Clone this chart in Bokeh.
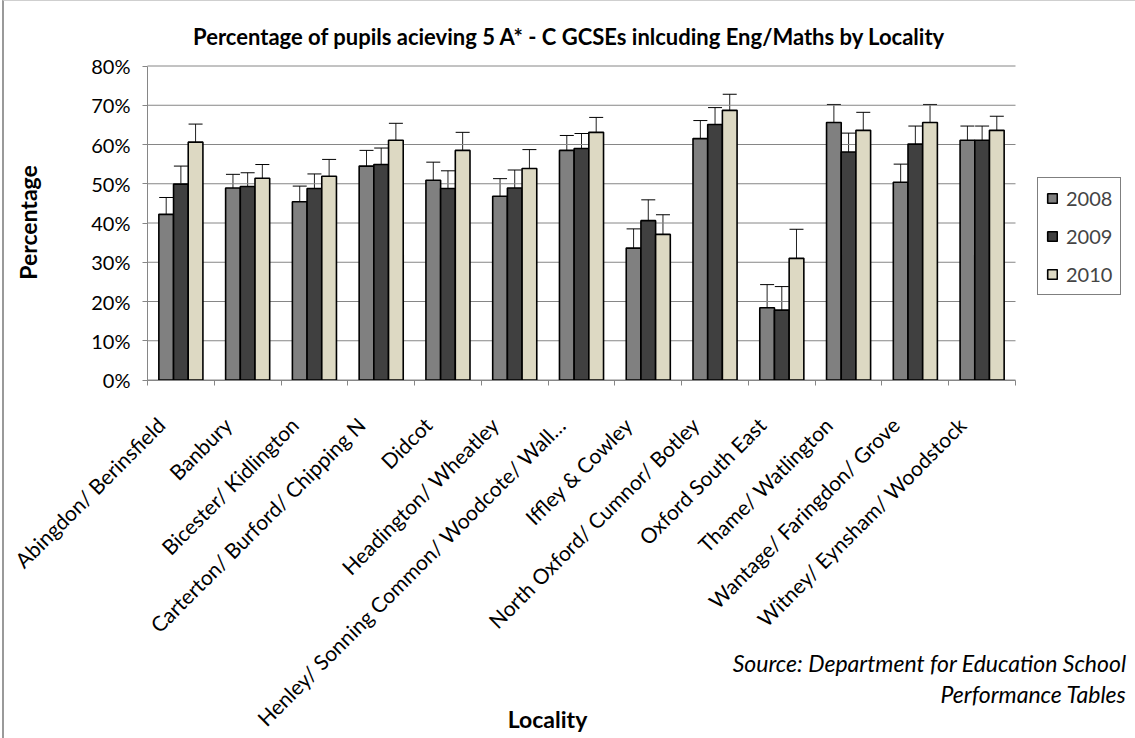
from math import pi
from bokeh.plotting import figure
from bokeh.models import (Range1d, FixedTicker, PrintfTickFormatter, Whisker, TeeHead,
                          ColumnDataSource, Label, Legend, LegendItem)
from bokeh.embed import file_html
from bokeh.resources import INLINE

localities = ["Abingdon/ Berinsfield", "Banbury", "Bicester/ Kidlington",
              "Carterton/ Burford/ Chipping N", "Didcot", "Headington/ Wheatley",
              "Henley/ Sonning Common/ Woodcote/ Wall\u2026", "Iffley & Cowley",
              "North Oxford/ Cumnor/ Botley", "Oxford South East", "Thame/ Watlington",
              "Wantage/ Faringdon/ Grove", "Witney/ Eynsham/ Woodstock"]
years = ["2008", "2009", "2010"]
v2008 = [42.2, 48.9, 45.4, 54.5, 50.9, 46.8, 58.5, 33.6, 61.5, 18.4, 65.6, 50.4, 61.1]
v2009 = [49.9, 49.3, 48.8, 54.9, 48.8, 48.9, 59.0, 40.6, 65.1, 17.8, 58.1, 60.1, 61.1]
v2010 = [60.6, 51.4, 51.9, 61.1, 58.5, 53.9, 63.1, 37.1, 68.7, 31.0, 63.6, 65.6, 63.6]
e2008 = [4.3, 3.5, 4.0, 4.0, 4.6, 4.5, 3.8, 4.9, 4.6, 5.9, 4.6, 4.6, 3.6]
e2009 = [4.6, 3.5, 3.7, 4.2, 4.5, 4.6, 3.8, 5.3, 4.3, 6.0, 4.8, 4.6, 3.6]
e2010 = [4.6, 3.5, 4.3, 4.3, 4.6, 4.8, 3.8, 5.0, 4.1, 7.4, 4.6, 4.6, 3.6]
y_ticks = [0, 10, 20, 30, 40, 50, 60, 70, 80]

colors = ["#808080", "#404040", "#DDD9C3"]
FONT = "Lato"
N = len(localities)

# canvas geometry (page pixels): canvas starts at page (4, 1), size 1131 x 737
CW, CH = 1131, 737
OX, OY = 4, 1
PX0, PX1 = 147.0, 1015.0      # page x of category axis start / end
PY0, PY80 = 379.5, 65.5       # page y of 0% and 80%
sx = (PX1 - PX0) / N
sy = (PY0 - PY80) / 80.0
x_start = -(PX0 - OX) / sx
x_end = N + (OX + CW - PX1) / sx
y_end = 80 + (PY80 - OY) / sy
y_start = -(OY + CH - PY0) / sy


def dx(px):
    return (px - PX0) / sx


def dy(py):
    return (PY0 - py) / sy


p = figure(frame_width=CW, frame_height=CH, min_border=0, output_backend="svg",
           toolbar_location=None, x_range=Range1d(x_start, x_end),
           y_range=Range1d(y_start, y_end))
p.title.visible = False
p.margin = (0, 0, 0, 2)
p.styles = {"border-left": "2px solid #9a9a9a", "border-top": "1px solid #cfcfcf"}
p.outline_line_color = None
p.background_fill_color = "white"
p.border_fill_color = "white"
p.xgrid.visible = False
p.ygrid.visible = False

# gridlines (value axis)
p.segment(x0=[0] * len(y_ticks), x1=[N] * len(y_ticks), y0=y_ticks, y1=y_ticks,
          line_color="#868686", line_width=1)

# axes placed at the data origin
p.xaxis.fixed_location = 0
p.xaxis.bounds = (0, N)
p.xaxis.ticker = FixedTicker(ticks=[i + 0.2 for i in range(N)],
                             minor_ticks=list(range(N + 1)))
p.xaxis.major_label_overrides = {i + 0.2: name for i, name in enumerate(localities)}
p.xaxis.major_label_orientation = pi / 4
p.xaxis.major_tick_out = 0
p.xaxis.major_tick_in = 0
p.xaxis.minor_tick_out = 5
p.xaxis.minor_tick_in = 0
p.xaxis.minor_tick_line_color = "#868686"
p.xaxis.axis_line_color = "#868686"
p.xaxis.major_label_text_font = FONT
p.xaxis.major_label_text_font_size = "21px"
p.xaxis.major_label_text_color = "black"
p.xaxis.major_label_standoff = 36

p.yaxis.fixed_location = 0
p.yaxis.bounds = (0, 80)
p.yaxis.ticker = FixedTicker(ticks=y_ticks, minor_ticks=[])
p.yaxis.formatter = PrintfTickFormatter(format="%d%%")
p.yaxis.major_tick_out = 5
p.yaxis.major_tick_in = 0
p.yaxis.major_tick_line_color = "#868686"
p.yaxis.axis_line_color = "#868686"
p.yaxis.major_label_text_font = FONT
p.yaxis.major_label_text_font_size = "20px"
p.yaxis.major_label_text_color = "black"
p.yaxis.major_label_standoff = 12

# bars + error bars
offsets = [-0.22, 0.0, 0.22]
series = [v2008, v2009, v2010]
errors = [e2008, e2009, e2010]
items = []
for k in range(3):
    xs = [i + 0.5 + offsets[k] for i in range(N)]
    src = ColumnDataSource(dict(x=xs, top=series[k],
                                upper=[v + e for v, e in zip(series[k], errors[k])],
                                lower=[v - e for v, e in zip(series[k], errors[k])]))
    r = p.vbar(x="x", top="top", width=0.22, bottom=0, source=src,
               fill_color=colors[k], line_color="black", line_width=1.6)
    items.append(LegendItem(label=years[k], renderers=[r]))
    w = Whisker(base="x", upper="upper", lower="lower", source=src, line_color="#222222",
                line_width=1,
                upper_head=TeeHead(size=14, line_color="black", line_width=1),
                lower_head=TeeHead(size=14, line_color="black", line_width=1))
    p.add_layout(w)

legend = Legend(items=items, location=(1037 - OX, CH - (295 - OY)),
                border_line_color="black", border_line_width=1,
                label_text_font=FONT, label_text_font_size="20px",
                glyph_width=12, glyph_height=12, label_height=24, spacing=14,
                padding=8, label_standoff=8, background_fill_color="white",
                background_fill_alpha=1.0, margin=0)
p.add_layout(legend, "center")

# texts
p.add_layout(Label(x=dx(569), y=dy(36), text="Percentage of pupils acieving 5 A* - C GCSEs inlcuding Eng/Maths by Locality",
                   text_align="center", text_baseline="alphabetic", text_font=FONT,
                   text_font_style="bold", text_font_size="22px", text_color="black"))
p.add_layout(Label(x=dx(27), y=dy(222), text="Percentage", angle=pi / 2, text_align="center",
                   text_baseline="middle", text_font=FONT, text_font_style="bold",
                   text_font_size="23px", text_color="black"))
p.add_layout(Label(x=dx(547), y=dy(718), text="Locality", text_align="center",
                   text_baseline="middle", text_font=FONT, text_font_style="bold",
                   text_font_size="23px", text_color="black"))
p.add_layout(Label(x=dx(1126), y=dy(662), text="Source: Department for Education School",
                   text_align="right", text_baseline="alphabetic", text_font=FONT,
                   text_font_style="italic", text_font_size="23px", text_color="black"))
p.add_layout(Label(x=dx(1126), y=dy(693), text="Performance Tables",
                   text_align="right", text_baseline="alphabetic", text_font=FONT,
                   text_font_style="italic", text_font_size="23px", text_color="black"))

open("out.html", "w").write(file_html(p, INLINE))
